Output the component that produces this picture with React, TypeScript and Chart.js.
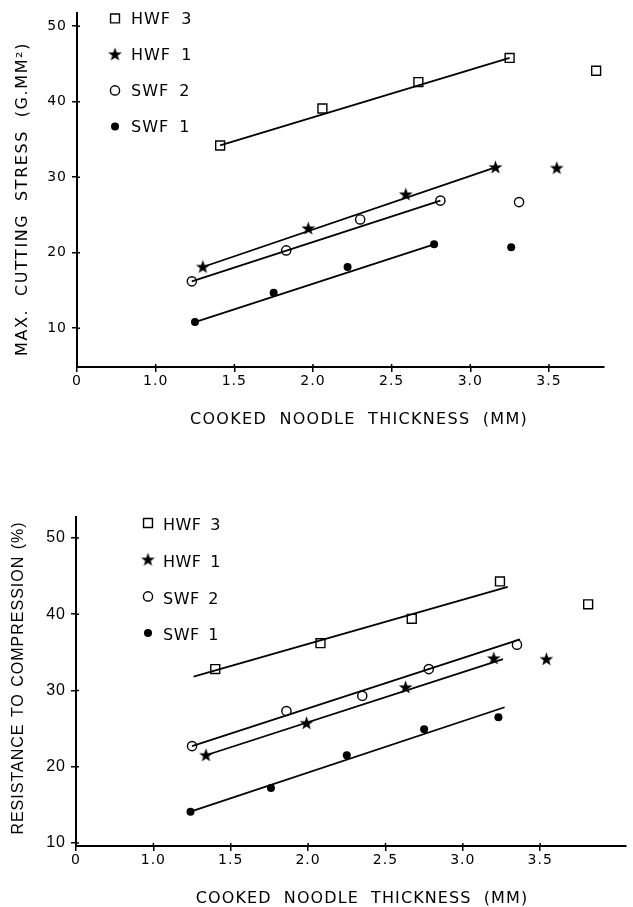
import React, { useEffect, useRef } from 'react';
import { Chart, registerables } from 'chart.js';
import { drawPoint } from 'chart.js/helpers';

Chart.register(...registerables);

// ---------- shared axis data ----------
const SERIES_NAMES = ['HWF 3', 'HWF 1', 'SWF 2', 'SWF 1'];
const X_TICK_VALUES = [0.5, 1.0, 1.5, 2.0, 2.5, 3.0, 3.5];
const X_TICK_LABELS = ['0', '1.0', '1.5', '2.0', '2.5', '3.0', '3.5'];
const Y_TICK_VALUES = [10, 20, 30, 40, 50];

// ---------- panel A: max. cutting stress ----------
const cutHwf3X = [1.41, 2.06, 2.67, 3.25, 3.8];
const cutHwf3Y = [34.2, 39.1, 42.6, 45.8, 44.1];
const cutHwf1X = [1.3, 1.97, 2.59, 3.16, 3.55];
const cutHwf1Y = [18.1, 23.2, 27.7, 31.3, 31.2];
const cutSwf2X = [1.23, 1.83, 2.3, 2.81, 3.31];
const cutSwf2Y = [16.2, 20.3, 24.4, 26.9, 26.7];
const cutSwf1X = [1.25, 1.75, 2.22, 2.77, 3.26];
const cutSwf1Y = [10.8, 14.7, 18.1, 21.1, 20.7];

const cutFitHwf3X = [1.41, 3.25];
const cutFitHwf3Y = [34.2, 45.8];
const cutFitHwf1X = [1.3, 3.16];
const cutFitHwf1Y = [18.1, 31.3];
const cutFitSwf2X = [1.23, 2.81];
const cutFitSwf2Y = [16.2, 26.9];
const cutFitSwf1X = [1.25, 2.77];
const cutFitSwf1Y = [10.8, 21.1];

// ---------- panel B: resistance to compression ----------
const compHwf3X = [1.4, 2.08, 2.67, 3.24, 3.81];
const compHwf3Y = [32.8, 36.2, 39.4, 44.3, 41.3];
const compHwf1X = [1.34, 1.99, 2.63, 3.2, 3.54];
const compHwf1Y = [21.5, 25.7, 30.4, 34.2, 34.1];
const compSwf2X = [1.25, 1.86, 2.35, 2.78, 3.35];
const compSwf2Y = [22.7, 27.3, 29.3, 32.8, 36.0];
const compSwf1X = [1.24, 1.76, 2.25, 2.75, 3.23];
const compSwf1Y = [14.1, 17.2, 21.5, 24.9, 26.5];

const compFitHwf3X = [1.26, 3.29];
const compFitHwf3Y = [31.8, 43.6];
const compFitHwf1X = [1.34, 3.26];
const compFitHwf1Y = [21.5, 34.1];
const compFitSwf2X = [1.25, 3.37];
const compFitSwf2Y = [22.7, 36.7];
const compFitSwf1X = [1.24, 3.27];
const compFitSwf1Y = [14.1, 27.8];

const zip = (xs: number[], ys: number[]) => xs.map((x, i) => ({ x, y: ys[i] }));

function makeStar(): HTMLCanvasElement {
  const c = document.createElement('canvas');
  c.width = 15;
  c.height = 15;
  const g = c.getContext('2d')!;
  const cx = 7.5, cy = 7.8, R = 7.2, r = 2.9;
  g.beginPath();
  for (let i = 0; i < 10; i++) {
    const a = -Math.PI / 2 + (i * Math.PI) / 5;
    const rr = i % 2 === 0 ? R : r;
    const px = cx + rr * Math.cos(a);
    const py = cy + rr * Math.sin(a);
    if (i === 0) g.moveTo(px, py);
    else g.lineTo(px, py);
  }
  g.closePath();
  g.fillStyle = '#000';
  g.fill();
  return c;
}

type TextSpec = {
  text: string;
  cx: number;
  cy: number;
  font: string;
  ls: number;
  ws: number;
  rotate?: boolean;
};

type PanelSpec = {
  canvasTop: number;
  canvasHeight: number;
  points: { x: number[]; y: number[] }[];
  fits: { x: number[]; y: number[] }[];
  xMin: number;
  xMax: number;
  yMin: number;
  yMax: number;
  padTop: number;
  padRight: number;
  yAxisWidth: number;
  xAxisHeight: number;
  yTickFont: string;
  yTickSize: number;
  xTitle: TextSpec;
  yTitle: TextSpec;
  legend: { dx: number; dy: number; gap: number; textGap: number; font: string; ls: number; ws: number; textDy: number };
};

const PANELS: PanelSpec[] = [
  {
    canvasTop: 0,
    canvasHeight: 445,
    points: [
      { x: cutHwf3X, y: cutHwf3Y },
      { x: cutHwf1X, y: cutHwf1Y },
      { x: cutSwf2X, y: cutSwf2Y },
      { x: cutSwf1X, y: cutSwf1Y },
    ],
    fits: [
      { x: cutFitHwf3X, y: cutFitHwf3Y },
      { x: cutFitHwf1X, y: cutFitHwf1Y },
      { x: cutFitSwf2X, y: cutFitSwf2Y },
      { x: cutFitSwf1X, y: cutFitSwf1Y },
    ],
    xMin: 0.5,
    xMax: 3.85,
    yMin: 4.85,
    yMax: 51.7,
    padTop: 12,
    padRight: 29,
    yAxisWidth: 77,
    xAxisHeight: 78,
    yTickFont: 'DejaVu Sans',
    yTickSize: 14,
    xTitle: { text: 'COOKED NOODLE THICKNESS (MM)', cx: 359, cy: 420, font: '16px "DejaVu Sans"', ls: 1.3, ws: 6 },
    yTitle: { text: 'MAX. CUTTING STRESS (G.MM²)', cx: 23, cy: 199, font: '16px "DejaVu Sans"', ls: 1.6, ws: 6, rotate: true },
    legend: { dx: 38, dy: 5, gap: 36, textGap: 16, font: '16px "DejaVu Sans"', ls: 1, ws: 4, textDy: 1.5 },
  },
  {
    canvasTop: 470,
    canvasHeight: 437,
    points: [
      { x: compHwf3X, y: compHwf3Y },
      { x: compHwf1X, y: compHwf1Y },
      { x: compSwf2X, y: compSwf2Y },
      { x: compSwf1X, y: compSwf1Y },
    ],
    fits: [
      { x: compFitHwf3X, y: compFitHwf3Y },
      { x: compFitHwf1X, y: compFitHwf1Y },
      { x: compFitSwf2X, y: compFitSwf2Y },
      { x: compFitSwf1X, y: compFitSwf1Y },
    ],
    xMin: 0.5,
    xMax: 4.05,
    yMin: 9.6,
    yMax: 52.75,
    padTop: 47,
    padRight: 0,
    yAxisWidth: 76,
    xAxisHeight: 61,
    yTickFont: 'Liberation Sans',
    yTickSize: 16,
    xTitle: { text: 'COOKED NOODLE THICKNESS (MM)', cx: 362, cy: 429, font: '16px "DejaVu Sans"', ls: 1.1, ws: 6 },
    yTitle: { text: 'RESISTANCE TO COMPRESSION (%)', cx: 19, cy: 208, font: '16px "Liberation Sans"', ls: 1, ws: 1, rotate: true },
    legend: { dx: 72, dy: 6, gap: 36.7, textGap: 15, font: '16px "DejaVu Sans"', ls: 0.5, ws: 3, textDy: 3 },
  },
];

function drawText(ctx: CanvasRenderingContext2D, t: TextSpec) {
  ctx.save();
  ctx.font = t.font;
  (ctx as any).letterSpacing = t.ls + 'px';
  (ctx as any).wordSpacing = t.ws + 'px';
  ctx.fillStyle = '#000';
  ctx.textAlign = 'center';
  ctx.textBaseline = 'middle';
  ctx.translate(t.cx, t.cy);
  if (t.rotate) ctx.rotate(-Math.PI / 2);
  ctx.fillText(t.text, 0, 0);
  ctx.restore();
}

function buildConfig(p: PanelSpec, star: HTMLCanvasElement): any {
  const markers: any[] = [
    { pointStyle: 'rect', pointRadius: 6.3, pointBackgroundColor: 'rgba(0,0,0,0)', pointBorderColor: '#000', pointBorderWidth: 1.4 },
    { pointStyle: star, pointRadius: 7, pointBackgroundColor: '#000', pointBorderColor: '#000', pointBorderWidth: 0 },
    { pointStyle: 'circle', pointRadius: 4.6, pointBackgroundColor: 'rgba(0,0,0,0)', pointBorderColor: '#000', pointBorderWidth: 1.4 },
    { pointStyle: 'circle', pointRadius: 4, pointBackgroundColor: '#000', pointBorderColor: '#000', pointBorderWidth: 0 },
  ];

  const datasets: any[] = [];
  p.points.forEach((s, i) => {
    datasets.push({
      label: SERIES_NAMES[i],
      data: zip(s.x, s.y),
      showLine: false,
      isSeries: true,
      order: 0,
      ...markers[i],
      pointHoverRadius: markers[i].pointRadius,
    });
  });
  p.fits.forEach((f) => {
    datasets.push({
      label: '',
      data: zip(f.x, f.y),
      showLine: true,
      borderColor: '#000',
      borderWidth: 1.8,
      pointRadius: 0,
      pointHoverRadius: 0,
      fill: false,
      order: 1,
    });
  });

  const paperPlugin = {
    id: 'paper',
    beforeDraw(chart: any) {
      (chart.ctx as any).letterSpacing = '1px';
    },
    afterDraw(chart: any) {
      const ctx: CanvasRenderingContext2D = chart.ctx;
      const { left, top, bottom } = chart.chartArea;
      // short inward tick marks so ticks cross the axes
      ctx.save();
      ctx.strokeStyle = '#000';
      ctx.lineWidth = 1.5;
      ctx.beginPath();
      chart.scales.x.ticks.forEach((t: any) => {
        const px = chart.scales.x.getPixelForValue(t.value);
        ctx.moveTo(px, bottom);
        ctx.lineTo(px, bottom - 3);
      });
      chart.scales.y.ticks.forEach((t: any) => {
        const py = chart.scales.y.getPixelForValue(t.value);
        ctx.moveTo(left, py);
        ctx.lineTo(left + 3, py);
      });
      ctx.stroke();
      ctx.restore();

      drawText(ctx, p.xTitle);
      drawText(ctx, p.yTitle);
      const L = p.legend;
      chart.data.datasets
        .filter((d: any) => d.isSeries)
        .forEach((d: any, i: number) => {
          const mx = left + L.dx;
          const my = top + L.dy + i * L.gap;
          ctx.save();
          (ctx as any).letterSpacing = '0px';
          ctx.fillStyle = d.pointBackgroundColor;
          ctx.strokeStyle = d.pointBorderColor;
          ctx.lineWidth = d.pointBorderWidth;
          drawPoint(ctx, { pointStyle: d.pointStyle, radius: d.pointRadius, borderWidth: d.pointBorderWidth, rotation: 0 } as any, mx, my);
          ctx.restore();
          ctx.save();
          ctx.font = L.font;
          (ctx as any).letterSpacing = L.ls + 'px';
          (ctx as any).wordSpacing = L.ws + 'px';
          ctx.fillStyle = '#000';
          ctx.textAlign = 'left';
          ctx.textBaseline = 'middle';
          ctx.fillText(d.label, mx + L.textGap, my + L.textDy);
          ctx.restore();
        });
    },
  };

  return {
    type: 'scatter',
    data: { datasets },
    options: {
      animation: false,
      responsive: false,
      maintainAspectRatio: false,
      layout: { padding: { top: p.padTop, right: p.padRight, left: 0, bottom: 0 } },
      plugins: { legend: { display: false }, tooltip: { enabled: false }, title: { display: false } },
      events: [],
      scales: {
        x: {
          type: 'linear',
          min: p.xMin,
          max: p.xMax,
          afterBuildTicks: (s: any) => {
            s.ticks = X_TICK_VALUES.map((v) => ({ value: v }));
          },
          afterFit: (s: any) => {
            s.height = p.xAxisHeight;
          },
          ticks: {
            autoSkip: false,
            maxRotation: 0,
            padding: 1,
            color: '#000',
            font: { family: 'DejaVu Sans', size: 14 },
            callback: (v: number) => {
              const i = X_TICK_VALUES.indexOf(v);
              return i >= 0 ? X_TICK_LABELS[i] : '';
            },
          },
          grid: { display: true, drawOnChartArea: false, drawTicks: true, tickLength: 5, color: '#000', lineWidth: 1.5 },
          border: { display: true, color: '#000', width: 2 },
          title: { display: false },
        },
        y: {
          type: 'linear',
          min: p.yMin,
          max: p.yMax,
          afterBuildTicks: (s: any) => {
            s.ticks = Y_TICK_VALUES.map((v) => ({ value: v }));
          },
          afterFit: (s: any) => {
            s.width = p.yAxisWidth;
          },
          ticks: {
            padding: 5,
            color: '#000',
            font: { family: p.yTickFont, size: p.yTickSize },
          },
          grid: { display: true, drawOnChartArea: false, drawTicks: true, tickLength: 5, color: '#000', lineWidth: 1.5 },
          border: { display: true, color: '#000', width: 2 },
          title: { display: false },
        },
      },
    },
    plugins: [paperPlugin],
  };
}

function PanelChart({ spec }: { spec: PanelSpec }) {
  const ref = useRef<HTMLCanvasElement | null>(null);
  useEffect(() => {
    if (!ref.current) return;
    const star = makeStar();
    const chart = new Chart(ref.current, buildConfig(spec, star));
    return () => chart.destroy();
  }, [spec]);
  return (
    <canvas
      ref={ref}
      width={633}
      height={spec.canvasHeight}
      style={{ position: 'absolute', left: 0, top: spec.canvasTop, width: 633, height: spec.canvasHeight, display: 'block' }}
    />
  );
}

export default function App() {
  return (
    <div style={{ position: 'absolute', left: 0, top: 0, width: 633, height: 907, background: '#fff', overflow: 'hidden' }}>
      {PANELS.map((p, i) => (
        <PanelChart key={i} spec={p} />
      ))}
    </div>
  );
}
